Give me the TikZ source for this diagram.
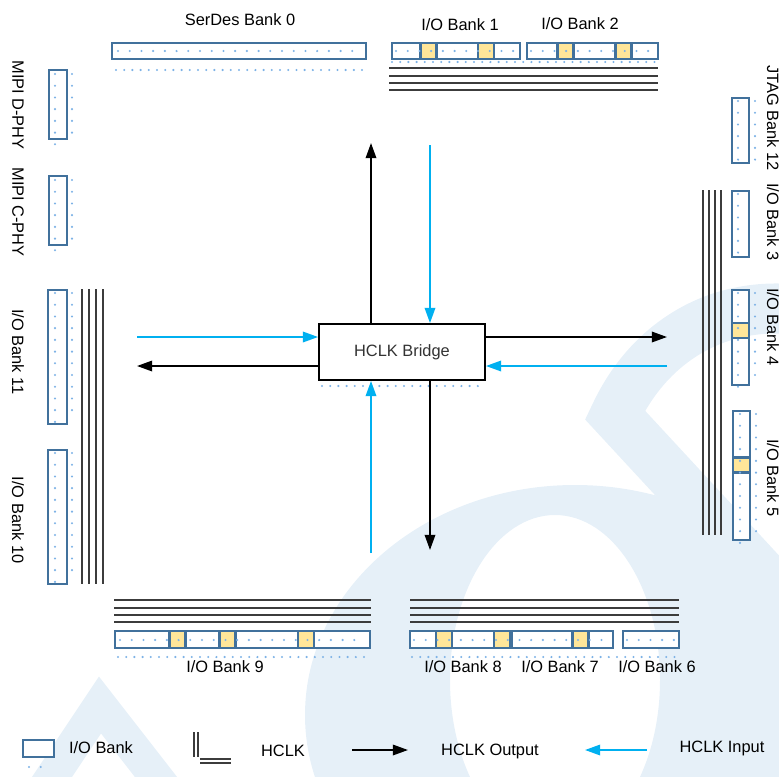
\documentclass[tikz,border=0pt]{standalone}
\usepackage{fontspec}
\setmainfont{Liberation Sans}
\usetikzlibrary{arrows.meta}

\definecolor{bankblue}{RGB}{65,113,156}
\definecolor{cellyellow}{RGB}{255,230,153}
\definecolor{inblue}{RGB}{0,176,240}
\definecolor{wirecol}{RGB}{60,60,60}
\definecolor{pinblue}{RGB}{125,178,230}
\definecolor{wmark}{RGB}{230,240,248}

\begin{document}
\begin{tikzpicture}[x=0.03cm, y=-0.03cm,
  font=\fontsize{14}{16}\selectfont,
  bank/.style={draw=bankblue, line width=2pt, fill=white, inner sep=0pt},
  hcell/.style={draw=bankblue, line width=2pt, fill=cellyellow, inner sep=0pt, minimum width=0.48cm, minimum height=#1},
  vcell/.style={draw=bankblue, line width=2pt, fill=cellyellow, inner sep=0pt, minimum height=0.45cm, minimum width=#1},
  lab/.style={inner sep=0pt},
  vlab/.style={inner sep=0pt, rotate=-90},
  hclk/.style={draw=wirecol, line width=1.4pt},
  pins/.style={draw=pinblue, line width=2pt, line cap=round, dash pattern=on 0pt off 7pt},
  outarr/.style={draw=black, line width=1.5pt, -{Triangle[length=13pt,width=9pt]}},
  inarr/.style={draw=inblue, line width=1.5pt, -{Triangle[length=13pt,width=9pt]}}
]
  \useasboundingbox (0,0) rectangle (779,776);

  % watermark
  \fill[wmark, even odd rule] (575,715) ellipse [x radius=270, y radius=230]
                              (555,680) ellipse [x radius=105, y radius=165];
  \draw[wmark, line width=1cm] (40,795) -- (100,705) -- (170,795);
  \draw[wmark, line width=1.5cm] (800,615) -- (615,415) .. controls (650,340) and (720,300) .. (800,310);
  \draw[wmark, line width=0.3cm] (765,772) circle [radius=25];

  % hclk wires
  \foreach \yy in {68,76,83,90}
    \draw[hclk] (389,\yy) -- (658,\yy);
  \foreach \xx in {82,89,96,103}
    \draw[hclk] (\xx,289) -- (\xx,584);
  \foreach \xx in {703,709,715,721}
    \draw[hclk] (\xx,190) -- (\xx,535);
  \foreach \yy in {600,608,615,622} {
    \draw[hclk] (114,\yy) -- (371,\yy);
    \draw[hclk] (410,\yy) -- (679,\yy);
  }

  % top banks
  \node[bank, minimum width=7.62cm, minimum height=0.48cm] (serdes) at (239,51) {};
  \node[bank, minimum width=3.84cm, minimum height=0.48cm] (bankone) at (456,51) {};
  \node[bank, minimum width=3.93cm, minimum height=0.48cm] (banktwo) at (592.5,51) {};
  \foreach \xx [count=\i] in {428.5,486,565.5,623.5}
    \node[hcell=0.48cm] (topcell\i) at (\xx,51) {};
  \node[lab] (lserdes) at (240,20) {SerDes Bank 0};
  \node[lab] (lbankone) at (460,25) {I/O Bank 1};
  \node[lab] (lbanktwo) at (580,24) {I/O Bank 2};

  % left banks
  \node[bank, minimum width=0.54cm, minimum height=2.07cm] (mipid) at (58,104.5) {};
  \node[bank, minimum width=0.54cm, minimum height=2.07cm] (mipic) at (58,210.5) {};
  \node[bank, minimum width=0.57cm, minimum height=4.02cm] (bankeleven) at (57.5,357) {};
  \node[bank, minimum width=0.57cm, minimum height=4.02cm] (bankten) at (57.5,517) {};
  \node[vlab] (lmipid) at (18,105) {MIPI D-PHY};
  \node[vlab] (lmipic) at (18,212) {MIPI C-PHY};
  \node[vlab] (lbankeleven) at (18,352) {I/O Bank 11};
  \node[vlab] (lbankten) at (18,520) {I/O Bank 10};

  % right banks
  \node[bank, minimum width=0.51cm, minimum height=1.95cm] (jtag) at (740.5,130.5) {};
  \node[bank, minimum width=0.51cm, minimum height=1.98cm] (bankthree) at (740.5,224) {};
  \node[bank, minimum width=0.51cm, minimum height=2.85cm] (bankfour) at (740.5,337.5) {};
  \node[bank, minimum width=0.51cm, minimum height=3.87cm] (bankfive) at (741.5,475.5) {};
  \node[vcell=0.51cm] (rightcell1) at (740.5,330.5) {};
  \node[vcell=0.51cm] (rightcell2) at (741.5,465) {};
  \node[vlab] (ljtag) at (773,118) {JTAG Bank 12};
  \node[vlab] (lbankthree) at (773,222) {I/O Bank 3};
  \node[vlab] (lbankfour) at (773,327) {I/O Bank 4};
  \node[vlab] (lbankfive) at (773,478) {I/O Bank 5};

  % bottom banks
  \node[bank, minimum width=7.65cm, minimum height=0.51cm] (banknine) at (242.5,639.5) {};
  \node[bank, minimum width=6.09cm, minimum height=0.51cm] (bankeightseven) at (511.5,639.5) {};
  \node[bank, minimum width=1.68cm, minimum height=0.51cm] (banksix) at (651,639.5) {};
  \draw[bankblue, line width=2pt] (512,631) -- (512,648);
  \foreach \xx [count=\i] in {177.5,227.5,306,444,502,580.5}
    \node[hcell=0.51cm] (botcell\i) at (\xx,639.5) {};
  \node[lab] (lbanknine) at (225,667) {I/O Bank 9};
  \node[lab] (lbankeight) at (463,667) {I/O Bank 8};
  \node[lab] (lbankseven) at (560,667) {I/O Bank 7};
  \node[lab] (lbanksix) at (657,667) {I/O Bank 6};

  % pin dots
  \foreach \xa/\xb/\yy in {116/368/70, 392/660/62, 118/372/657, 412/680/657, 322/486/386}
    \draw[pins] (\xa,\yy) -- (\xb,\yy);
  \foreach \xa/\xb/\yy in {118/362/51, 396/516/51, 531/654/51, 120/366/640, 414/609/640, 627/675/640, 325/480/334}
    \draw[pins, dash pattern=on 0pt off 10pt] (\xa,\yy) -- (\xb,\yy);
  \foreach \xx/\ya/\yb in {55/74/145, 72/74/136, 55/180/251, 72/180/242, 55/293/430, 72/293/421,
                           55/453/590, 72/453/581, 738/101/170, 755/101/160, 738/194/262, 738/293/392,
                           755/293/382, 740/414/546, 756/414/537}
    \draw[pins, dash pattern=on 0pt off 10pt] (\xx,\ya) -- (\xx,\yb);

  % bridge and clock paths
  \node[draw, line width=1.6pt, fill=white, minimum width=4.98cm, minimum height=1.68cm,
        text=black!80] (bridge) at (402,352) {HCLK Bridge};
  \coordinate (upout) at (371,143);
  \coordinate (upin) at (430,145);
  \coordinate (leftin) at (137,337);
  \coordinate (leftout) at (137,366);
  \coordinate (rightout) at (667,337);
  \coordinate (rightin) at (667,366);
  \coordinate (downin) at (371,553);
  \coordinate (downout) at (430,550);
  \draw[outarr] (bridge.north -| upout) -- (upout);
  \draw[inarr] (upin) -- (upin |- bridge.north);
  \draw[inarr] (leftin) -- (leftin -| bridge.west);
  \draw[outarr] (leftout -| bridge.west) -- (leftout);
  \draw[outarr] (rightout -| bridge.east) -- (rightout);
  \draw[inarr] (rightin) -- (rightin -| bridge.east);
  \draw[inarr] (downin) -- (downin |- bridge.south);
  \draw[outarr] (downout |- bridge.south) -- (downout);

  % legend
  \node[bank, minimum width=0.93cm, minimum height=0.51cm] (legbank) at (38.5,748.5) {};
  \draw[pins, dash pattern=on 0pt off 10pt] (29,767) -- (50,767);
  \node[lab] (llegbank) at (101,748) {I/O Bank};
  \draw[hclk] (194,732) -- (194,757);
  \draw[hclk] (198,732) -- (198,757);
  \draw[hclk] (200,759) -- (231,759);
  \draw[hclk] (200,763) -- (231,763);
  \node[lab] (lleghclk) at (283,751) {HCLK};
  \coordinate (legoutA) at (352,750);
  \coordinate (legoutB) at (408,750);
  \draw[outarr] (legoutA) -- (legoutB);
  \node[lab] (llegout) at (490,751) {HCLK Output};
  \coordinate (leginA) at (647,750);
  \coordinate (leginB) at (585,750);
  \draw[inarr] (leginA) -- (leginB);
  \node[lab] (llegin) at (722,748) {HCLK Input};
\end{tikzpicture}
\end{document}
